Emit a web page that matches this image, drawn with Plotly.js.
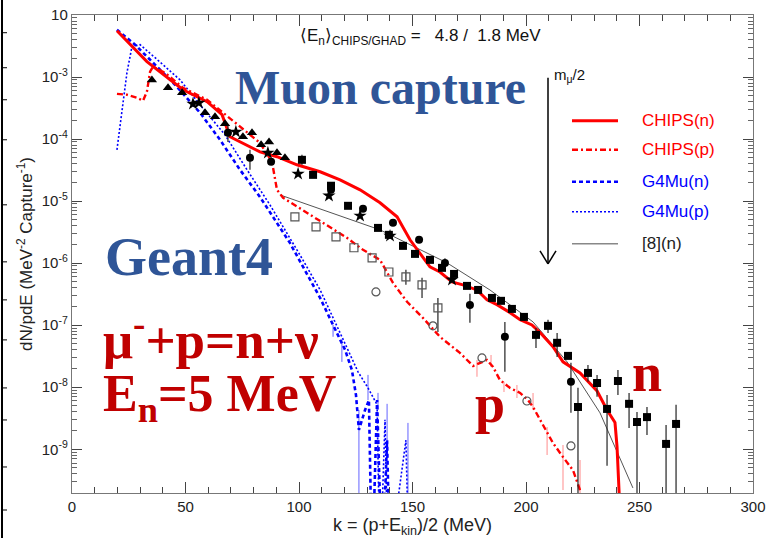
<!DOCTYPE html>
<html>
<head>
<meta charset="utf-8">
<script src="https://cdn.plot.ly/plotly-3.0.1.min.js"></script>
<style>html,body{margin:0;padding:0;background:#fff;}#chart{width:766px;height:538px;}</style>
</head>
<body>
<div id="chart"></div>
<script>
// ---------- DATA (k in MeV, dN/pdE in MeV^-2 Capture^-1) ----------
const chipsN_k = [19.8,33.0,48.9,59.5,66.1,69.6,82.8,90.3,99.1,109.3,118.1,126.9,135.7,143.2,148.9,153.3,157.7,162.1,167.4,172.2,178.4,182.8,187.2,193.0,197.4,202.6,206.2,211.9,216.3,223.8,231.3,235.7,239.2,240.1,241.4];
const chipsN_v = [5.58e-3,1.77e-3,6.24e-4,4.0e-4,2.47e-4,1.09e-4,6.2e-5,5.2e-5,3.85e-5,2.97e-5,2.2e-5,1.52e-5,9.4e-6,5.6e-6,2.38e-6,1.47e-6,8.7e-7,7.2e-7,5.0e-7,4.47e-7,3.7e-7,2.57e-7,2.14e-7,1.59e-7,1.23e-7,1.01e-7,7.6e-8,4.5e-8,2.57e-8,1.7e-8,8.7e-9,4.3e-9,2.7e-9,1.1e-9,1e-10];

const chipsP_k = [19.8,24.2,28.6,31.3,33.0,34.4,35.7,41.0,48.9,59.5,68.7,77.1,82.8,88.1,90.3,93.0,103.5,112.3,121.1,128.2,135.7,141.4,147.6,154.6,162.1,170.9,176.7,182.8,185.5,188.5,193.0,197.4,200.9,203.1,206.2,209.3,211.9,216.3,220.7,223.8,224.7];
const chipsP_v = [5.36e-4,5.19e-4,4.64e-4,4.15e-4,5.8e-4,1.22e-3,1.47e-3,1.17e-3,6.7e-4,4.3e-4,2.29e-4,1.31e-4,8.7e-5,4.3e-5,1.52e-5,1.13e-5,6.5e-6,4.15e-6,2.56e-6,1.64e-6,1.13e-6,4.8e-7,2.38e-7,1.31e-7,6.5e-8,3.57e-8,2.2e-8,2.75e-8,2.12e-8,1.31e-8,9.7e-9,8.1e-9,6.2e-9,4.8e-9,2.97e-9,1.83e-9,1.26e-9,7.5e-10,4.6e-10,2.2e-10,1e-10];

const g4n_k = [19.8,27.8,34.4,45.4,56.4,65.2,74.0,82.8,96.0,109.3,115.0,120.3,123.3,125.1,126.4,129.1,130.8,132.2,134.4,136.6,138.8,140.1];
const g4n_v = [5.8e-3,3.32e-3,1.9e-3,7.5e-4,2.66e-4,9.75e-5,3.2e-5,1.17e-5,2.12e-6,2.75e-7,1.01e-7,4.0e-8,1.9e-8,7.5e-9,2.05e-9,4.3e-9,6.2e-9,1e-11,6.2e-9,1e-11,1.4e-9,1e-11];

const g4p_k = [19.8,24.2,26.4,30.0,36.6,47.6,56.4,67.4,77.1,87.2,100.4,109.3,118.9,122.5,126.0,130.4,134.4,135.7,137.9,139.2,147.1,148.5];
const g4p_v = [6.7e-5,1.17e-3,3.08e-3,3.32e-3,2.05e-3,9.0e-4,3.57e-4,1.17e-4,3.2e-5,8.7e-6,1.36e-6,3.7e-7,6.5e-8,3.3e-8,1.77e-8,9.75e-9,5.2e-9,1e-11,3e-9,1e-11,1.4e-9,1e-11];

const ref8_k = [91.6,113.7,135.7,165.2,184.1,203.1,218.1,232.6,247.1];
const ref8_v = [1.26e-5,6.5e-6,3.44e-6,1.01e-6,3.7e-7,1.13e-7,2.56e-8,3.86e-9,2.38e-10];

// CHIPS(p) and G4Mu statistical error bars (top / bottom)
const chipsPerr_k  = [178.4,184.6,190.3,196.0,203.1,209.3,216.3,223.8];
const chipsPerr_hi = [2.75e-8,3.32e-8,1.22e-8,1.09e-8,8.1e-9,2.29e-9,1.17e-9,6.7e-10];
const chipsPerr_lo = [1.47e-8,2.12e-8,8.4e-9,6.7e-9,4.3e-9,8.1e-10,2.2e-10,1e-11];
const g4err_k  = [115.0,118.9,126.4,130.4,134.8,138.8,148.0];
const g4err_hi = [1.01e-7,5.8e-8,4.3e-9,1.58e-8,8.1e-9,5.4e-9,2.66e-9];
const g4err_lo = [6.5e-8,2.56e-8,1e-11,6.2e-9,4.3e-9,7.5e-10,1e-11];

// Experimental points
const tri_k = [35.2,42.3,48.5,58.6,63.0,67.4,75.3,79.3,83.3,86.8,90.3,93.8];
const tri_v = [9.0e-4,6.7e-4,5.58e-4,2.66e-4,2.29e-4,1.77e-4,1.09e-4,1.26e-4,8.1e-5,9.0e-5,6.0e-5,5.0e-5];

const star_k = [53.3,55.9,72.2,86.3,99.6,113.2,126.9,140.1,167.4];
const star_v = [3.7e-4,3.84e-4,1.31e-4,6.0e-5,2.75e-5,1.22e-5,5.8e-6,2.75e-6,5.4e-7];

const circ_k  = [68.7,78.4,87.7,114.1,128.2,141.4,152.9,164.3,175.3,190.7,219.8];
const circ_v  = [1.26e-4,5.0e-5,4.3e-5,1.52e-5,7.5e-6,4.47e-6,2.38e-6,1.01e-6,2.12e-7,6.5e-8,1.22e-8];
const circ_hi = [1.64e-4,6.7e-5,4.3e-5,1.52e-5,7.5e-6,4.47e-6,2.38e-6,1.2e-6,3.2e-7,1.13e-7,2.47e-8];
const circ_lo = [9.0e-5,3.2e-5,4.3e-5,1.52e-5,7.5e-6,4.47e-6,2.38e-6,8.4e-7,1.09e-7,1.77e-8,3.86e-9];

const sq_k  = [101.3,106.2,114.1,121.6,134.8,139.6,145.8,151.1,157.7,163.0,168.3,174.0,178.9,185.0,189.0,193.8,199.1,204.4,209.7,213.7,218.5,227.3,231.3,240.5,222.9,235.7,245.4,248.9,253.3,261.7,266.1];
const sq_v  = [4.63e-5,2.65e-5,1.77e-5,8.4e-6,3.7e-6,2.86e-6,1.9e-6,1.41e-6,1.13e-6,8.4e-7,6.7e-7,4.3e-7,3.7e-7,2.75e-7,2.47e-7,1.83e-7,1.36e-7,6.98e-8,9.75e-8,5.2e-8,3.2e-8,1.7e-8,1.17e-8,1.26e-8,4.8e-9,4.47e-9,5.4e-9,2.75e-9,3.3e-9,1.22e-9,2.56e-9];
const sq_hi = [5.58e-5,2.65e-5,1.77e-5,8.4e-6,3.7e-6,2.86e-6,1.9e-6,1.41e-6,1.13e-6,8.4e-7,6.7e-7,4.3e-7,3.7e-7,2.75e-7,2.47e-7,1.83e-7,1.36e-7,9.0e-8,1.22e-7,7.5e-8,3.2e-8,2.29e-8,1.58e-8,1.9e-8,9.8e-9,7.5e-9,8.1e-9,4.0e-9,4.8e-9,2.47e-9,5.2e-9];
const sq_lo = [3.85e-5,2.65e-5,1.77e-5,8.4e-6,3.7e-6,2.86e-6,1.9e-6,1.41e-6,1.13e-6,8.4e-7,6.7e-7,4.3e-7,3.7e-7,2.75e-7,2.47e-7,1.83e-7,1.36e-7,4.3e-8,7.5e-8,3.08e-8,3.2e-8,1.22e-8,7.0e-9,7.5e-9,1e-11,5.4e-10,2.2e-9,1e-11,1.7e-9,1e-11,1e-11];

const osq_k  = [98.2,107.5,116.3,124.2,132.2,139.6,147.1,154.2,161.2];
const osq_v  = [5.58e-6,3.85e-6,2.65e-6,1.77e-6,1.22e-6,7.2e-7,6.0e-7,4.47e-7,1.9e-7];
const osq_hi = [5.58e-6,3.85e-6,2.65e-6,1.77e-6,1.22e-6,7.2e-7,7.8e-7,5.8e-7,2.75e-7];
const osq_lo = [5.58e-6,3.85e-6,2.65e-6,1.77e-6,1.22e-6,7.2e-7,4.47e-7,2.75e-7,7.8e-8];

const ocirc_k = [133.9,159.0,180.6,200.4,219.8];
const ocirc_v = [3.44e-7,9.75e-8,2.97e-8,6.0e-9,1.13e-9];

// Axis ticks
const xTicks = [0,50,100,150,200,250,300];
const yTickVals = [1e-9,1e-8,1e-7,1e-6,1e-5,1e-4,1e-3,1e-2];
const yTickText = ['10<sup>-9</sup>','10<sup>-8</sup>','10<sup>-7</sup>','10<sup>-6</sup>','10<sup>-5</sup>','10<sup>-4</sup>','10<sup>-3</sup>','10'];

// Legend entries
const legNames  = ['CHIPS(n)','CHIPS(p)','G4Mu(n)','G4Mu(p)','[8](n)'];

// ---------- helpers ----------
const PL=72, PR=753, PT=15.3, PB=493;
const px = x => (x-PL)/(PR-PL);
const py = y => (PB-y)/(PB-PT);
function errDeltas(v, hi, lo){
  return {type:'data', symmetric:false,
    array: v.map((y,i)=>hi[i]-y), arrayminus: v.map((y,i)=>y-lo[i]),
    color:'#222', thickness:1.2, width:0, visible:true};
}
function segs(k, hi, lo){
  const xs=[], ys=[];
  k.forEach((x,i)=>{xs.push(x,x,null); ys.push(hi[i],lo[i],null);});
  return {x:xs, y:ys};
}

const RED='#ff0000', BLUE='#0000ff', GREY='#555555';
const traces = [];
const ePs = segs(chipsPerr_k, chipsPerr_hi, chipsPerr_lo);
traces.push({x:ePs.x, y:ePs.y, mode:'lines', line:{color:'rgba(255,80,80,0.55)', width:1.2}, hoverinfo:'skip'});
const eG = segs(g4err_k, g4err_hi, g4err_lo);
traces.push({x:eG.x, y:eG.y, mode:'lines', line:{color:'rgba(60,60,255,0.8)', width:1}, hoverinfo:'skip'});

traces.push({name:'G4Mu(p)', x:g4p_k, y:g4p_v, mode:'lines', line:{color:BLUE, width:1.6, dash:'2px,2px'}});
traces.push({name:'G4Mu(n)', x:g4n_k, y:g4n_v, mode:'lines', line:{color:BLUE, width:2.6, dash:'4px,3px'}});
traces.push({name:'[8](n)', x:ref8_k, y:ref8_v, mode:'lines', line:{color:GREY, width:1}});
traces.push({name:'CHIPS(p)', x:chipsP_k, y:chipsP_v, mode:'lines', line:{color:RED, width:2.4, dash:'6px,3px,2px,3px'}});
traces.push({name:'CHIPS(n)', x:chipsN_k, y:chipsN_v, mode:'lines', line:{color:RED, width:3}});

traces.push({x:osq_k, y:osq_v, mode:'markers', error_y:errDeltas(osq_v,osq_hi,osq_lo),
  marker:{symbol:'square-open', size:8, color:GREY, line:{width:1.2, color:GREY}}});
traces.push({x:ocirc_k, y:ocirc_v, mode:'markers',
  marker:{symbol:'circle-open', size:8, color:GREY, line:{width:1.2, color:GREY}}});
traces.push({x:tri_k, y:tri_v, mode:'markers', marker:{symbol:'triangle-up', size:9, color:'#000'}});
traces.push({x:star_k, y:star_v, mode:'markers', marker:{symbol:'star', size:10, color:'#000'}});
traces.push({x:circ_k, y:circ_v, mode:'markers', error_y:errDeltas(circ_v,circ_hi,circ_lo),
  marker:{symbol:'circle', size:8, color:'#000'}});
traces.push({x:sq_k, y:sq_v, mode:'markers', error_y:errDeltas(sq_v,sq_hi,sq_lo),
  marker:{symbol:'square', size:8, color:'#000'}});

// ---------- decorations ----------
const legRows = [121,150,182,212,244];
const legStyles = [
  {color:RED, width:3, dash:'solid'},
  {color:RED, width:2.4, dash:'6px,3px,2px,3px'},
  {color:BLUE, width:2.6, dash:'4px,3px'},
  {color:BLUE, width:1.6, dash:'2px,2px'},
  {color:'#888', width:1.5, dash:'solid'}];
const legColors = [RED, RED, BLUE, BLUE, '#222'];

const shapes = [];
legRows.forEach((r,i)=>{
  shapes.push({type:'line', xref:'paper', yref:'paper', x0:px(572), x1:px(618), y0:py(r), y1:py(r), line:legStyles[i]});
});
// m_mu/2 arrow
shapes.push({type:'line', xref:'paper', yref:'paper', x0:px(548), x1:px(548), y0:py(78), y1:py(263), line:{color:'#000', width:1.5}});
shapes.push({type:'line', xref:'paper', yref:'paper', x0:px(540), x1:px(548), y0:py(251), y1:py(264), line:{color:'#000', width:1.5}});
shapes.push({type:'line', xref:'paper', yref:'paper', x0:px(556), x1:px(548), y0:py(251), y1:py(264), line:{color:'#000', width:1.5}});
// fragment of neighbouring frame at left edge
shapes.push({type:'line', xref:'paper', yref:'paper', x0:px(2), x1:px(2), y0:py(-5), y1:py(545), line:{color:'#000', width:2}});
[33,68,100,140,205,262,300,340,388,420,467,510].forEach(y=>{
  shapes.push({type:'line', xref:'paper', yref:'paper', x0:px(2), x1:px(7), y0:py(y), y1:py(y), line:{color:'#000', width:1}});
});

const SANS = 'Liberation Sans, Arial, Helvetica, sans-serif';
const SERIF = 'Liberation Serif, Times New Roman, serif';
const annotations = [
  {text:'\u27E8E<sub>n</sub>\u27E9<sub>CHIPS/GHAD</sub> =\u00a0\u00a0 4.8 /\u00a0 1.8 MeV', x:px(298), y:py(37), xanchor:'left', yanchor:'middle',
    font:{family:SANS, size:17, color:'#111'}},
  {text:'Muon capture', x:px(380), y:py(88), xanchor:'center', yanchor:'middle', font:{family:SERIF, size:48, color:'#2F5597', weight:'bold'}},
  {text:'m<sub>\u03bc</sub>/2', x:px(552), y:py(76), xanchor:'left', yanchor:'middle', font:{family:SERIF === '' ? SANS : SANS, size:15, color:'#111'}},
  {text:'Geant4', x:px(189), y:py(257), xanchor:'center', yanchor:'middle', font:{family:SERIF, size:54, color:'#2F5597', weight:'bold'}},
  {text:'\u03bc<sup>-</sup>+p=n+\u03bd', x:px(101), y:py(336), xanchor:'left', yanchor:'middle', font:{family:SERIF, size:53, color:'#C00000', weight:'bold'}},
  {text:'E<sub>n</sub>=5 MeV', x:px(101), y:py(398), xanchor:'left', yanchor:'middle', font:{family:SERIF, size:52, color:'#C00000', weight:'bold'}},
  {text:'n', x:px(647), y:py(373), xanchor:'center', yanchor:'middle', font:{family:SERIF, size:54, color:'#C00000', weight:'bold'}},
  {text:'p', x:px(490), y:py(404), xanchor:'center', yanchor:'middle', font:{family:SERIF, size:54, color:'#C00000', weight:'bold'}}
];
legNames.forEach((n,i)=>{
  annotations.push({text:n, x:px(640), y:py(legRows[i]), xanchor:'left', yanchor:'middle', font:{family:SANS, size:17, color:legColors[i]}});
});
annotations.forEach(a=>{a.xref='paper'; a.yref='paper'; a.showarrow=false;});

const layout = {
  width:766, height:538,
  margin:{l:72, r:13, t:15, b:45, pad:0},
  paper_bgcolor:'#fff', plot_bgcolor:'#fff',
  showlegend:false,
  font:{family:SANS, color:'#222'},
  xaxis:{range:[0,300], tickmode:'array', tickvals:xTicks, ticks:'inside', ticklen:11, tickwidth:1, tickcolor:'#444',
    minor:{dtick:10, tick0:0, ticks:'inside', ticklen:6, tickcolor:'#444', tickwidth:1, showgrid:false},
    showline:true, linecolor:'#777', linewidth:1.2, mirror:'ticks', showgrid:false, zeroline:false,
    tickfont:{size:15, family:SANS, color:'#222'},
    title:{text:'k = (p+E<sub>kin</sub>)/2 (MeV)', font:{size:18, family:SANS, color:'#222'}, standoff:6}, automargin:false},
  yaxis:{type:'log', range:[-9.705,-2], tickmode:'array', tickvals:yTickVals, ticktext:yTickText,
    ticks:'inside', ticklen:10, tickwidth:1, tickcolor:'#444',
    minor:{dtick:'D1', ticks:'inside', ticklen:5, tickcolor:'#666', tickwidth:1, showgrid:false},
    showline:true, linecolor:'#777', linewidth:1.2, mirror:'ticks', showgrid:false, zeroline:false,
    tickfont:{size:15, family:SANS, color:'#222'},
    title:{text:'dN/pdE (MeV<sup>-2</sup> Capture<sup>-1</sup>)', font:{size:17, family:SANS, color:'#222'}, standoff:4}, automargin:false},
  shapes:shapes, annotations:annotations
};

Plotly.newPlot('chart', traces, layout, {staticPlot:true, displayModeBar:false});
</script>
</body>
</html>
